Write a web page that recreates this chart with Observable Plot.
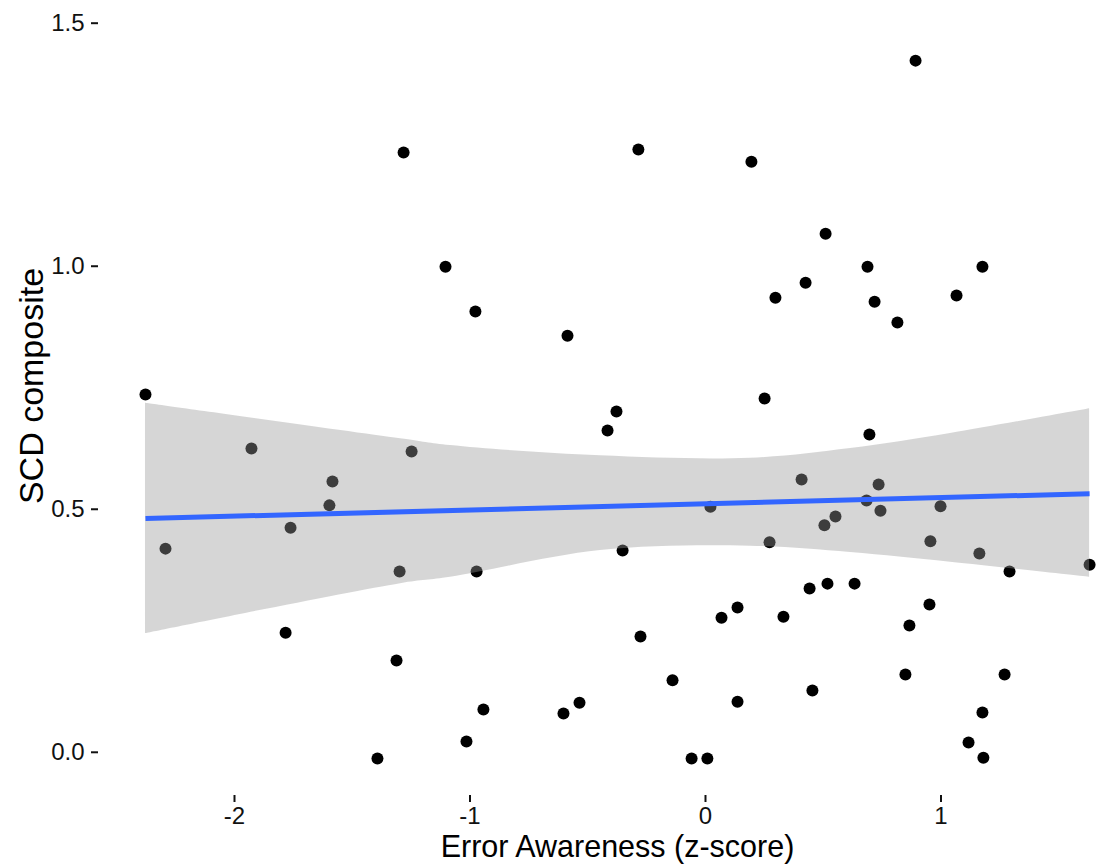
<!DOCTYPE html>
<html>
<head>
<meta charset="utf-8">
<script src="https://cdn.jsdelivr.net/npm/d3@7"></script>
<script src="https://cdn.jsdelivr.net/npm/@observablehq/plot@0.6"></script>
<style>
  html, body { margin: 0; padding: 0; background: #fff; overflow: hidden; }
  #chart svg { display: block; }
</style>
</head>
<body>
<div id="chart"></div>
<script>
// Error Awareness (z-score)
const errorAwareness = [
  -2.378, -2.293, -1.928, -1.762, -1.597, -1.584, -1.783, -1.312, -1.299, -1.282,
  -1.248, -1.393, -1.104, -1.015, -0.977, -0.972, -0.943, -0.603, -0.586, -0.535,
  -0.416, -0.378, -0.352, -0.285, -0.276, -0.140, -0.059, 0.008, 0.021, 0.068,
  0.136, 0.136, 0.195, 0.251, 0.272, 0.297, 0.331, 0.408, 0.425, 0.442,
  0.454, 0.505, 0.510, 0.518, 0.552, 0.633, 0.684, 0.688, 0.696, 0.718,
  0.735, 0.743, 0.815, 0.849, 0.866, 0.892, 0.951, 0.955, 0.998, 1.066,
  1.117, 1.163, 1.176, 1.176, 1.180, 1.270, 1.291, 1.631
];
// SCD composite
const scdComposite = [
  0.736, 0.419, 0.625, 0.462, 0.508, 0.557, 0.246, 0.189, 0.372, 1.234,
  0.619, -0.013, 0.999, 0.022, 0.907, 0.372, 0.088, 0.080, 0.857, 0.102,
  0.662, 0.701, 0.415, 1.240, 0.238, 0.148, -0.013, -0.013, 0.505, 0.277,
  0.298, 0.104, 1.215, 0.728, 0.432, 0.935, 0.279, 0.561, 0.966, 0.337,
  0.127, 0.467, 1.067, 0.347, 0.485, 0.347, 0.518, 0.999, 0.654, 0.927,
  0.551, 0.497, 0.884, 0.160, 0.261, 1.423, 0.304, 0.434, 0.506, 0.940,
  0.020, 0.409, 0.999, 0.082, -0.011, 0.160, 0.372, 0.386
];
// Linear fit (lm) with 95% confidence band
const bandX     = [-2.378, -1.295, -1.083, -0.446, 0.191, 0.616, 1.040, 1.631];
const bandUpper = [ 0.718,  0.645,  0.631,  0.610, 0.605, 0.625, 0.656, 0.707];
const bandLower = [ 0.244,  0.347,  0.360,  0.415, 0.424, 0.411, 0.391, 0.360];
const fitX = [-2.378, 1.631];
const fitY = [ 0.481, 0.532];

const xTicks = [-2, -1, 0, 1];
const yTicks = [0.0, 0.5, 1.0, 1.5];
const xTitle = "Error Awareness (z-score)";
const yTitle = "SCD composite";

const points = errorAwareness.map((x, i) => ({x, y: scdComposite[i]}));
const band = bandX.map((x, i) => ({x, lo: bandLower[i], hi: bandUpper[i]}));
const fit = fitX.map((x, i) => ({x, y: fitY[i]}));

const chart = Plot.plot({
  width: 1104,
  height: 867,
  marginLeft: 98,
  marginRight: 0,
  marginTop: 0,
  marginBottom: 72,
  style: {fontFamily: "'Liberation Sans', Arial, Helvetica, sans-serif", background: "#fff", color: "#000"},
  x: {domain: [-2.5775, 1.6943]},
  y: {domain: [-0.0889, 1.5467]},
  marks: [
    Plot.dot(points, {x: "x", y: "y", r: 6, fill: "#000", stroke: "none"}),
    Plot.areaY(band, {x: "x", y1: "lo", y2: "hi", curve: "catmull-rom", fill: "#999999", fillOpacity: 0.4}),
    Plot.line(fit, {x: "x", y: "y", stroke: "#3366FF", strokeWidth: 5, strokeLinecap: "butt"}),
    Plot.axisX({ticks: xTicks, tickFormat: d => String(d), tickSize: 7, tickPadding: 4, fontSize: 24, strokeWidth: 2, color: "#111", label: null}),
    Plot.axisY({ticks: yTicks, tickFormat: d3.format(".1f"), tickSize: 7, tickPadding: 7, fontSize: 24, strokeWidth: 2, color: "#111", label: null}),
    Plot.text([xTitle], {frameAnchor: "bottom", text: d => d, textAnchor: "middle", dx: 16, dy: 61, fontSize: 30.5, fill: "#000"}),
    Plot.text([yTitle], {frameAnchor: "left", text: d => d, textAnchor: "middle", rotate: -90, dx: -66, dy: -12, fontSize: 34, fill: "#000"})
  ]
});
document.getElementById("chart").append(chart);
</script>
</body>
</html>
